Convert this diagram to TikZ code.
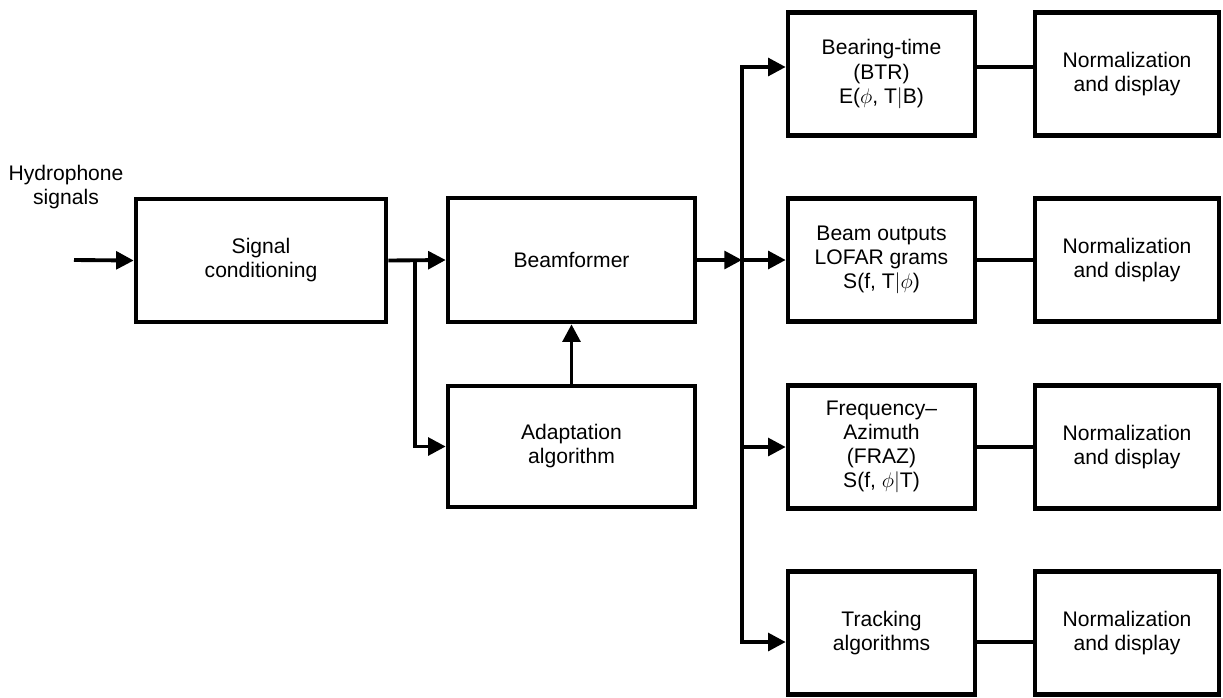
\documentclass[tikz,border=0pt]{standalone}
\usepackage{fontspec}
\setmainfont{Liberation Sans}
\usetikzlibrary{arrows.meta}
\tikzset{
    block/.style={draw, line width=2.6pt, align=center, inner sep=2pt, font=\fontsize{12}{13.7}\selectfont},
    midbox/.style={block, minimum width=3.74cm, minimum height=2.46cm},
    normbox/.style={block, minimum width=3.68cm, minimum height=2.46cm},
    link/.style={line width=2.2pt},
    feed/.style={link, -{Triangle[length=10pt, width=10pt]}},
}
\begin{document}
\begin{tikzpicture}
    \useasboundingbox (0,0) rectangle (24.46,-13.94);

    %front end
    \node[font=\fontsize{12}{13.7}\selectfont, align=center] (hydro) at (1.32,-3.74) {Hydrophone\\signals};
    \node[block, minimum width=5.0cm, minimum height=2.46cm] (sig) at (5.22,-5.21) {Signal\\conditioning};
    \node[block, minimum width=4.94cm, minimum height=2.48cm] (beam) at (11.43,-5.2) {Beamformer};
    \node[block, minimum width=4.94cm, minimum height=2.42cm] (adapt) at (11.43,-8.93) {Adaptation\\algorithm};

    %outputs
    \node[midbox] (btr) at (17.63,-1.48) {Bearing-time\\(BTR)\\E($\phi$, T$|$B)};
    \node[midbox] (lofar) at (17.63,-5.2) {Beam outputs\\LOFAR grams\\S(f, T$|\phi$)};
    \node[midbox] (fraz) at (17.63,-8.94) {Frequency--\\Azimuth\\(FRAZ)\\S(f, $\phi|$T)};
    \node[midbox] (track) at (17.63,-12.66) {Tracking\\algorithms};

    %displays
    \node[normbox] (norm1) at (22.54,-1.48) {Normalization\\and display};
    \node[normbox] (norm2) at (22.54,-5.2) {Normalization\\and display};
    \node[normbox] (norm3) at (22.54,-8.94) {Normalization\\and display};
    \node[normbox] (norm4) at (22.54,-12.66) {Normalization\\and display};

    \coordinate (in) at (1.48,-5.2);
    \coordinate (split) at (8.3,-5.2);
    \coordinate (bus) at (14.84,-5.2);
    \coordinate (btrin) at ([yshift=1.4mm]btr.west);
    \coordinate (trackin) at ([yshift=-1.8mm]track.west);

    %arrows
    \draw[feed] (in) -- (sig.west);
    \draw[feed] (sig.east) -- (beam.west);
    \draw[feed] (split) |- (adapt.west);
    \draw[feed] (adapt.north) -- (beam.south);
    \draw[feed] (beam.east) -- (bus);
    \draw[feed] (bus) |- (btrin);
    \draw[feed] (bus) |- (trackin);
    \draw[feed] (bus) -- (lofar.west);
    \draw[feed] (bus |- fraz.west) -- (fraz.west);

    %to displays
    \draw[link] (btrin -| btr.east) -- (btrin -| norm1.west);
    \draw[link] (lofar.east) -- (norm2.west);
    \draw[link] (fraz.east) -- (norm3.west);
    \draw[link] (trackin -| track.east) -- (trackin -| norm4.west);
\end{tikzpicture}
\end{document}
